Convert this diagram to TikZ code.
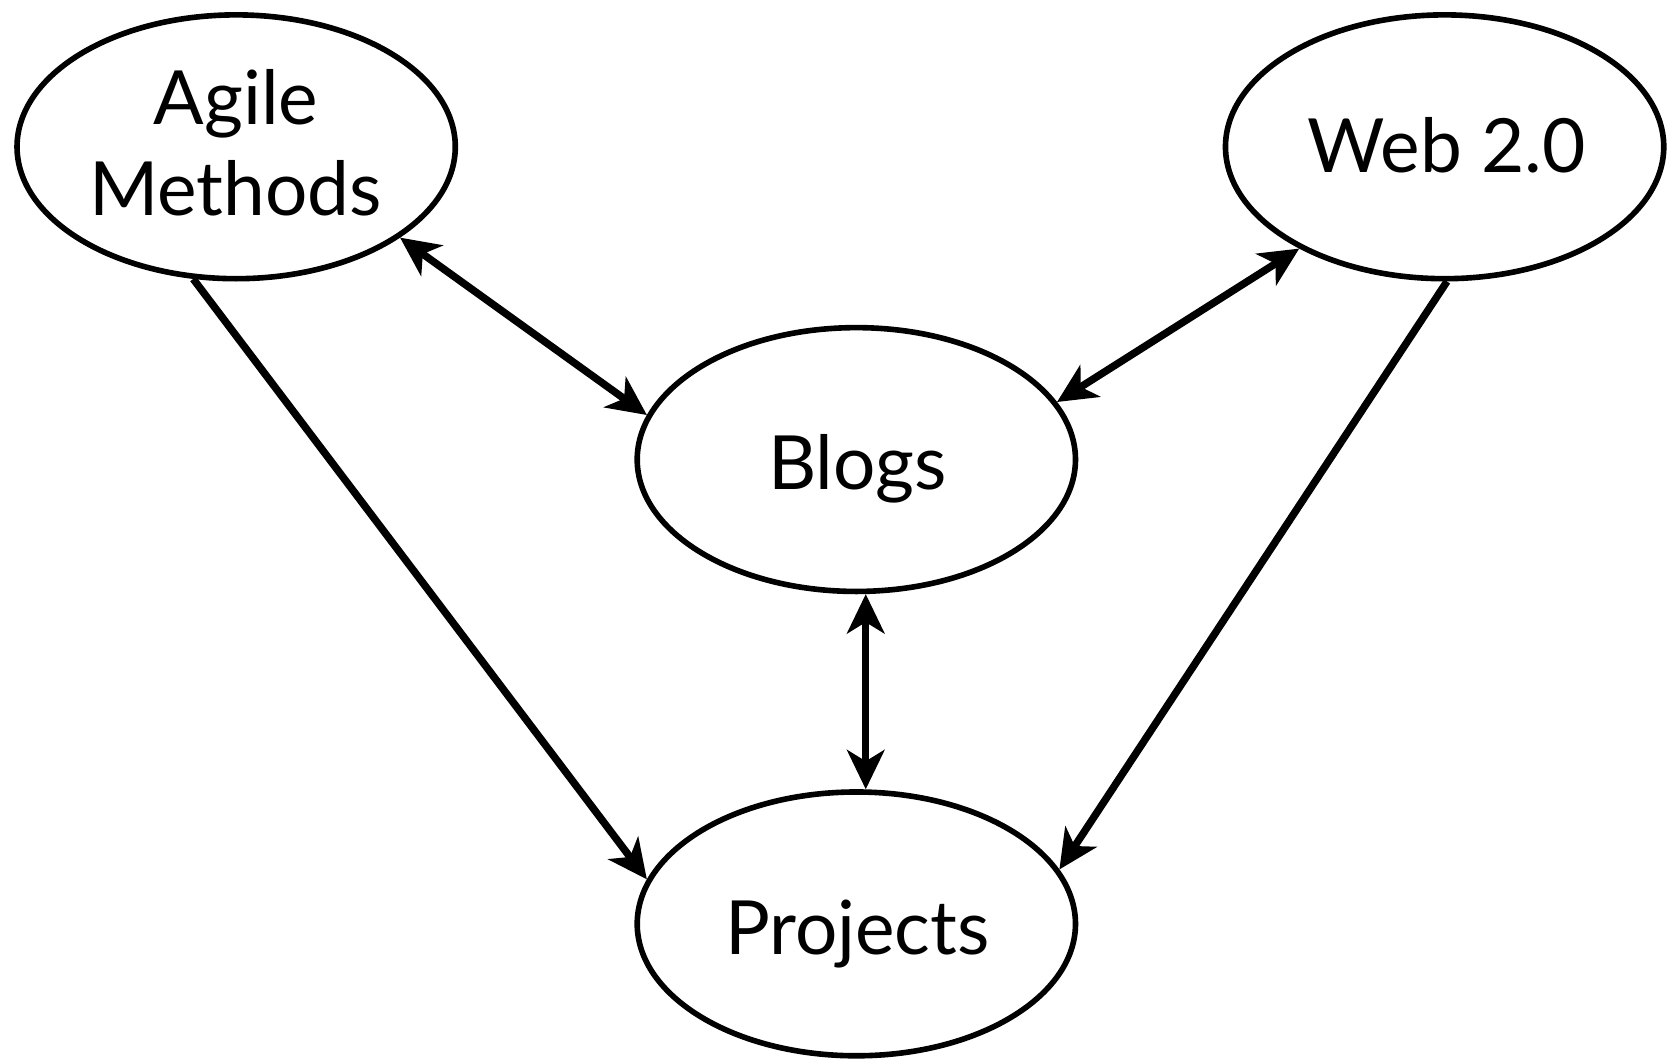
\documentclass[tikz,border=0pt]{standalone}
\usepackage{fontspec}
\setmainfont{Lato}
\usetikzlibrary{arrows.meta,shapes.geometric}
\begin{document}
\begin{tikzpicture}[
  bubble/.style={ellipse, draw=black, line width=1.5pt, minimum width=4.12cm, minimum height=2.48cm, inner sep=0pt},
  lbl/.style={font=\fontsize{20}{24}\selectfont, inner sep=0pt, anchor=base},
  conn/.style={line width=2pt, draw=black},
  >={Stealth[length=10.5pt,width=10pt,inset=3pt]}
]
\useasboundingbox (0,0) rectangle (15.68,9.96);
\node[bubble] (agile) at (2.22,8.58) {};
\node[bubble] (web) at (13.58,8.58) {};
\node[bubble] (blogs) at (8.05,5.64) {};
\node[bubble] (projects) at (8.05,1.275) {};
\node[lbl] (tagile) at (2.22,8.79) {Agile};
\node[lbl] (tmethods) at (2.215,7.93) {Methods};
\node[lbl] (tweb) at (13.60,8.34) {Web 2.0};
\node[lbl] (tblogs) at (8.06,5.36) {Blogs};
\node[lbl] (tprojects) at (8.06,0.99) {Projects};
\draw[conn,<->] (agile.-29) -- (blogs.168);
\draw[conn,<->] (web.215) -- (blogs.16);
\draw[conn,<->] (blogs.-86) -- (projects.86);
\draw[conn,->] (agile.252) -- (projects.168);
\draw[conn,->] (web.-89) -- (projects.15);
\end{tikzpicture}
\end{document}
